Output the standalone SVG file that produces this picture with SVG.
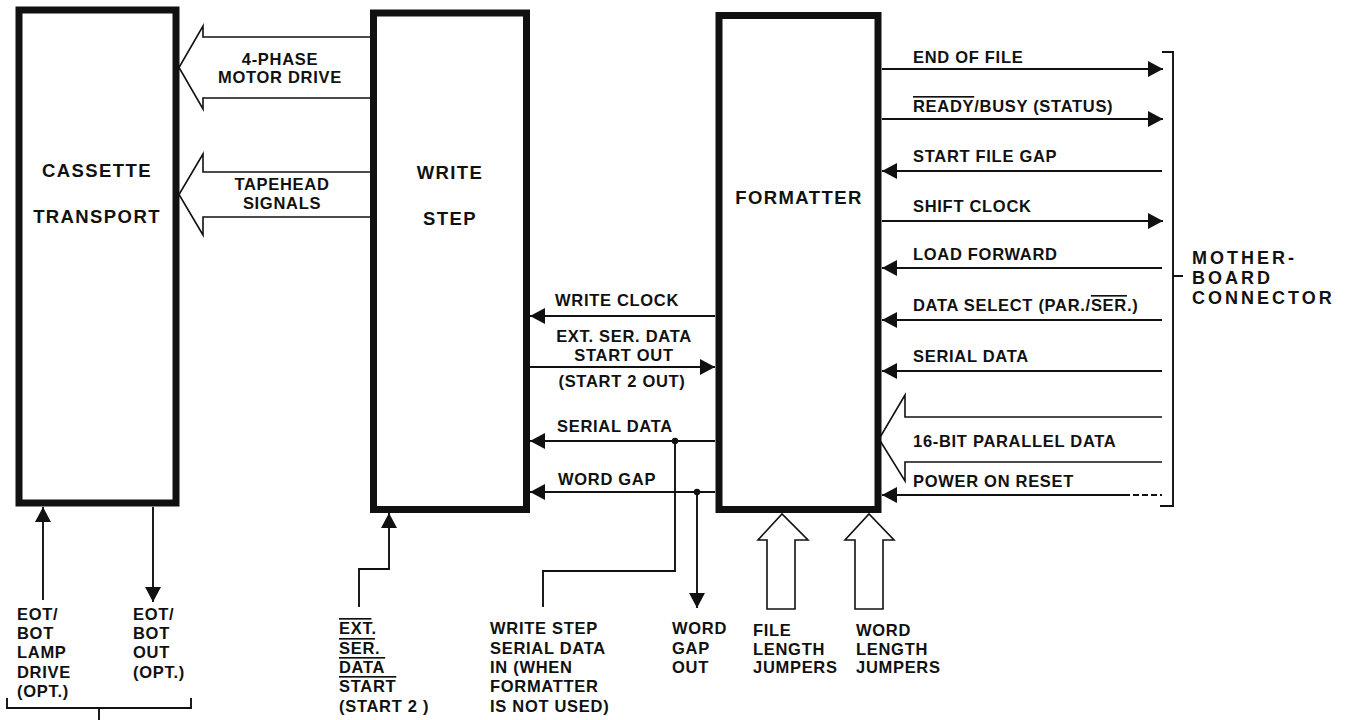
<svg xmlns="http://www.w3.org/2000/svg" width="1348" height="720" viewBox="0 0 1348 720">
<defs>
<style>
text{font-family:"Liberation Sans",Arial,sans-serif;font-weight:bold;fill:#111}
.t{font-size:18.5px;letter-spacing:1.4px;text-anchor:middle}
.l{font-size:16.5px;letter-spacing:0.7px}
.c{text-anchor:middle}
.m{font-size:18px;letter-spacing:3px}
.box{fill:none;stroke:#111;stroke-width:7}
.w{fill:none;stroke:#111;stroke-width:1.9}
.h{fill:none;stroke:#111;stroke-width:1.6;stroke-linejoin:miter}
.ov{text-decoration:overline}
</style>
<marker id="ah" markerUnits="userSpaceOnUse" markerWidth="15" markerHeight="16" refX="15" refY="8" orient="auto" viewBox="0 0 15 16">
<path d="M0,0 L15,8 L0,16 Z" fill="#111"/>
</marker>
</defs>
<rect width="1348" height="720" fill="#fff"/>

<g id="cassette-transport">
<rect class="box" x="19" y="10" width="157" height="493"/>
<text class="t" x="97" y="177">CASSETTE</text>
<text class="t" x="97" y="223">TRANSPORT</text>
</g>

<g id="write-step">
<rect class="box" x="373.5" y="13" width="153" height="496.5"/>
<text class="t" x="450" y="179">WRITE</text>
<text class="t" x="450" y="225">STEP</text>
</g>

<g id="formatter">
<rect class="box" x="719" y="15.5" width="159" height="494"/>
<text class="t" x="799" y="204">FORMATTER</text>
</g>

<g id="connectors">
<path class="h" d="M370,37 L203,37 L203,26 L179,67.5 L203,109 L203,98 L370,98"/>
<path class="h" d="M370,172 L203,172 L203,154 L179,194.5 L203,235 L203,217 L370,217"/>
<path class="h" d="M1162,417 L905,417 L905,395 L879,439 L905,481 L905,462 L1162,462"/>
<path class="h" d="M767,609 L767,540 L758,540 L782,514 L808,540 L795,540 L795,609 Z"/>
<path class="h" d="M855,609 L855,540 L845,540 L869,514 L894,540 L883,540 L883,609 Z"/>

<line class="w" x1="882" y1="69" x2="1163" y2="69" marker-end="url(#ah)"/>
<line class="w" x1="882" y1="119" x2="1163" y2="119" marker-end="url(#ah)"/>
<line class="w" x1="1162" y1="171" x2="882" y2="171" marker-end="url(#ah)"/>
<line class="w" x1="882" y1="221" x2="1163" y2="221" marker-end="url(#ah)"/>
<line class="w" x1="1162" y1="268" x2="882" y2="268" marker-end="url(#ah)"/>
<line class="w" x1="1162" y1="320" x2="882" y2="320" marker-end="url(#ah)"/>
<line class="w" x1="1162" y1="371" x2="882" y2="371" marker-end="url(#ah)"/>
<line class="w" x1="1130" y1="495" x2="882" y2="495" marker-end="url(#ah)"/>
<line class="w" x1="1133" y1="495" x2="1162" y2="495" stroke-dasharray="6,3"/>

<line class="w" x1="715" y1="316" x2="530" y2="316" marker-end="url(#ah)"/>
<line class="w" x1="530" y1="367" x2="715" y2="367" marker-end="url(#ah)"/>
<line class="w" x1="715" y1="441" x2="530" y2="441" marker-end="url(#ah)"/>
<line class="w" x1="715" y1="492" x2="530" y2="492" marker-end="url(#ah)"/>
<polyline class="w" points="675,441 675,571 543,571 543,607"/>
<line class="w" x1="697" y1="492" x2="697" y2="608" marker-end="url(#ah)"/>
<circle cx="675" cy="441" r="3.2" fill="#111"/>
<circle cx="697" cy="492" r="3.2" fill="#111"/>
<polyline class="w" points="359,607 359,569 389,569 389,513" marker-end="url(#ah)"/>

<line class="w" x1="43" y1="600" x2="43" y2="507" marker-end="url(#ah)"/>
<line class="w" x1="153" y1="507" x2="153" y2="602" marker-end="url(#ah)"/>

<path class="w" d="M1162,52 L1173,52 L1173,506 L1160,506 M1173,276 L1183,276"/>
<path class="w" d="M7,698 L7,708 L191,708 L191,698 M99,708 L99,720"/>
</g>

<g id="labels">
<text class="l c" x="280" y="65">4-PHASE</text>
<text class="l c" x="280" y="83">MOTOR DRIVE</text>
<text class="l c" x="282" y="190">TAPEHEAD</text>
<text class="l c" x="282" y="209">SIGNALS</text>

<text class="l" x="913" y="63">END OF FILE</text>
<text class="l" x="913" y="112"><tspan class="ov">READY</tspan>/BUSY (STATUS)</text>
<text class="l" x="913" y="162">START FILE GAP</text>
<text class="l" x="913" y="212">SHIFT CLOCK</text>
<text class="l" x="913" y="260">LOAD FORWARD</text>
<text class="l" x="913" y="311">DATA SELECT (PAR./<tspan class="ov">SER</tspan>.)</text>
<text class="l" x="913" y="362">SERIAL DATA</text>
<text class="l" x="913" y="447">16-BIT PARALLEL DATA</text>
<text class="l" x="913" y="487">POWER ON RESET</text>

<text class="m" x="1192" y="264">MOTHER-</text>
<text class="m" x="1192" y="284">BOARD</text>
<text class="m" x="1192" y="304">CONNECTOR</text>

<text class="l" x="555" y="306">WRITE CLOCK</text>
<text class="l c" x="624" y="342">EXT. SER. DATA</text>
<text class="l c" x="624" y="361">START OUT</text>
<text class="l c" x="622" y="387">(START 2 OUT)</text>
<text class="l" x="557" y="432">SERIAL DATA</text>
<text class="l" x="558" y="485">WORD GAP</text>

<text class="l" x="17" y="620">EOT/</text>
<text class="l" x="17" y="639">BOT</text>
<text class="l" x="17" y="658">LAMP</text>
<text class="l" x="17" y="678">DRIVE</text>
<text class="l" x="17" y="697">(OPT.)</text>
<text class="l" x="133" y="620">EOT/</text>
<text class="l" x="133" y="639">BOT</text>
<text class="l" x="133" y="658">OUT</text>
<text class="l" x="133" y="678">(OPT.)</text>

<text class="l" x="339" y="634"><tspan class="ov">EXT</tspan>.</text>
<text class="l" x="339" y="654"><tspan class="ov">SER</tspan>.</text>
<text class="l" x="339" y="673"><tspan class="ov">DATA</tspan></text>
<text class="l" x="339" y="692"><tspan class="ov">START</tspan></text>
<text class="l" x="339" y="712">(START 2 )</text>

<text class="l" x="490" y="634">WRITE STEP</text>
<text class="l" x="490" y="654">SERIAL DATA</text>
<text class="l" x="490" y="673">IN (WHEN</text>
<text class="l" x="490" y="692">FORMATTER</text>
<text class="l" x="490" y="712">IS NOT USED)</text>

<text class="l" x="672" y="634">WORD</text>
<text class="l" x="672" y="654">GAP</text>
<text class="l" x="672" y="673">OUT</text>

<text class="l" x="753" y="636">FILE</text>
<text class="l" x="753" y="655">LENGTH</text>
<text class="l" x="753" y="673">JUMPERS</text>
<text class="l" x="856" y="636">WORD</text>
<text class="l" x="856" y="655">LENGTH</text>
<text class="l" x="856" y="673">JUMPERS</text>
</g>
</svg>
